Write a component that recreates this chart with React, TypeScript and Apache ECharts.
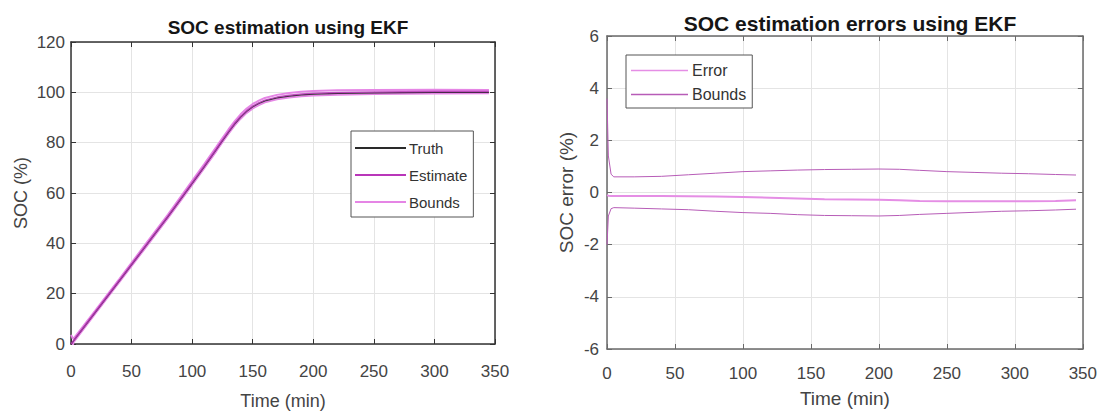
import React, { useEffect, useRef } from "react";
import * as echarts from "echarts";

// ---- SOC estimation (left panel) ----
const socTime = [0, 2, 20, 40, 60, 80, 100, 110, 120, 125, 130, 135, 140, 145, 150, 155, 160, 170, 180, 190, 200, 220, 250, 300, 345];
const socTruth = [0, 1.2, 12.6, 25.2, 37.9, 50.6, 63.8, 70.5, 77.3, 80.8, 84.2, 87.4, 90.2, 92.5, 94.3, 95.6, 96.6, 97.8, 98.5, 99.0, 99.3, 99.6, 99.8, 100.0, 100.0];
const socEstimate = [0, 1.3, 12.7, 25.3, 38.0, 50.7, 64.0, 70.7, 77.5, 81.0, 84.4, 87.6, 90.4, 92.7, 94.5, 95.8, 96.9, 98.1, 98.8, 99.3, 99.6, 99.9, 100.1, 100.3, 100.3];
const socBoundWidth = [3.6, 0.7, 0.6, 0.62, 0.68, 0.74, 0.8, 0.82, 0.83, 0.84, 0.85, 0.86, 0.86, 0.87, 0.87, 0.88, 0.88, 0.89, 0.89, 0.9, 0.9, 0.88, 0.8, 0.72, 0.67];

// ---- SOC estimation error (right panel) ----
const errTime = [0, 1, 3, 5, 20, 40, 60, 80, 100, 120, 140, 160, 180, 200, 215, 230, 250, 270, 290, 310, 330, 345];
const socError = [-0.1, -0.12, -0.13, -0.13, -0.13, -0.13, -0.14, -0.15, -0.17, -0.2, -0.23, -0.26, -0.27, -0.28, -0.3, -0.33, -0.34, -0.34, -0.34, -0.34, -0.33, -0.3];
const errUpper = [3.6, 1.4, 0.7, 0.6, 0.6, 0.62, 0.68, 0.74, 0.8, 0.83, 0.86, 0.88, 0.89, 0.9, 0.89, 0.85, 0.8, 0.77, 0.74, 0.72, 0.69, 0.67];
const errLower = [-2.0, -0.9, -0.62, -0.58, -0.6, -0.63, -0.66, -0.72, -0.77, -0.8, -0.85, -0.88, -0.89, -0.9, -0.88, -0.84, -0.8, -0.76, -0.72, -0.7, -0.67, -0.64];

// axis ticks
const timeTicks = { min: 0, max: 350, interval: 50 };
const socTicks = { min: 0, max: 120, interval: 20 };
const errTicks = { min: -6, max: 6, interval: 2 };

const FONT = "'Liberation Sans', Arial, sans-serif";

const pairs = (xs: number[], ys: number[]) => xs.map((x, i) => [x, ys[i]]);

function boxAxes(
  gridIndex: number,
  xr: { min: number; max: number; interval: number },
  yr: { min: number; max: number; interval: number },
  o: {
    axisColor: string;
    xName: string;
    yName: string;
    xNameGap: number;
    yNameGap: number;
    nameSize: number;
    xLabelMargin: number;
    yLabelMargin: number;
  }
) {
  const line = { show: true, onZero: false, lineStyle: { color: o.axisColor, width: 1.5 } };
  const tick = { show: true, inside: true, length: 5, lineStyle: { color: o.axisColor, width: 1 } };
  const grid = { show: true, lineStyle: { color: "#e4e4e4", width: 1 } };
  const label = { color: "#444", fontSize: 17, fontFamily: FONT };
  const nameStyle = { color: "#444", fontSize: o.nameSize, fontFamily: FONT };
  const xAxes = [
    {
      type: "value", gridIndex, position: "bottom", ...xr,
      axisLine: line, axisTick: tick, splitLine: grid,
      axisLabel: { ...label, margin: o.xLabelMargin },
      name: o.xName, nameLocation: "middle", nameGap: o.xNameGap, nameTextStyle: nameStyle,
    },
    {
      type: "value", gridIndex, position: "top", ...xr,
      axisLine: line, axisTick: tick, splitLine: { show: false }, axisLabel: { show: false },
    },
  ];
  const yAxes = [
    {
      type: "value", gridIndex, position: "left", ...yr,
      axisLine: line, axisTick: tick, splitLine: grid,
      axisLabel: { ...label, margin: o.yLabelMargin },
      name: o.yName, nameLocation: "middle", nameGap: o.yNameGap, nameRotate: 90, nameTextStyle: nameStyle,
    },
    {
      type: "value", gridIndex, position: "right", ...yr,
      axisLine: line, axisTick: tick, splitLine: { show: false }, axisLabel: { show: false },
    },
  ];
  return { xAxes, yAxes };
}

export default function App() {
  const ref = useRef<HTMLDivElement>(null);

  useEffect(() => {
    if (!ref.current) return;
    const chart = echarts.init(ref.current, undefined, { renderer: "svg" });

    const left = boxAxes(0, timeTicks, socTicks, {
      axisColor: "#333",
      xName: "Time (min)",
      yName: "SOC (%)",
      xNameGap: 48,
      yNameGap: 41,
      nameSize: 18,
      xLabelMargin: 19,
      yLabelMargin: 6,
    });
    const right = boxAxes(1, timeTicks, errTicks, {
      axisColor: "#6a6a6a",
      xName: "Time (min)",
      yName: "SOC error (%)",
      xNameGap: 40,
      yNameGap: 31,
      nameSize: 19,
      xLabelMargin: 16,
      yLabelMargin: 8,
    });

    const socUpper = socEstimate.map((v, i) => v + socBoundWidth[i]);
    const socLower = socEstimate.map((v, i) => v - socBoundWidth[i]);

    const lineBase = { type: "line", showSymbol: false, symbol: "none", silent: true };

    const legendNames: Record<string, string> = { errBounds: "Bounds" };

    chart.setOption({
      animation: false,
      backgroundColor: "#ffffff",
      textStyle: { fontFamily: FONT },
      title: [
        {
          text: "SOC estimation using EKF",
          left: 283, top: 13, textAlign: "center",
          textStyle: { fontSize: 19, fontWeight: "bold", color: "#151515", fontFamily: FONT },
        },
        {
          text: "SOC estimation errors using EKF",
          left: 845, top: 8, textAlign: "center",
          textStyle: { fontSize: 21, fontWeight: "bold", color: "#151515", fontFamily: FONT },
        },
      ],
      grid: [
        { left: 71, top: 42, width: 424, height: 304 },
        { left: 607, top: 36, width: 476, height: 313 },
      ],
      xAxis: [...left.xAxes, ...right.xAxes],
      yAxis: [...left.yAxes, ...right.yAxes],
      legend: [
        {
          data: ["Truth", "Estimate", "Bounds"],
          orient: "vertical",
          left: 351, top: 131,
          icon: "rect",
          itemWidth: 51, itemHeight: 2, itemGap: 11,
          padding: [9, 6, 7, 4],
          borderColor: "#555", borderWidth: 1, borderRadius: 0,
          backgroundColor: "#ffffff",
          selectedMode: false,
          textStyle: { fontSize: 15, lineHeight: 16, color: "#333", fontFamily: FONT, padding: [0, 0, 0, -2] },
        },
        {
          data: ["Error", "errBounds"],
          formatter: (n: string) => legendNames[n] || n,
          orient: "vertical",
          left: 626, top: 55,
          icon: "rect",
          itemWidth: 57, itemHeight: 1.5, itemGap: 7,
          padding: [7, 6, 5, 5],
          borderColor: "#555", borderWidth: 1, borderRadius: 0,
          backgroundColor: "#ffffff",
          selectedMode: false,
          textStyle: { fontSize: 16, lineHeight: 17, color: "#333", fontFamily: FONT, padding: [0, 0, 0, -1] },
        },
      ],
      series: [
        // left panel
        { ...lineBase, name: "Bounds", xAxisIndex: 0, yAxisIndex: 0, data: pairs(socTime, socUpper), lineStyle: { color: "#e585e5", width: 2 }, itemStyle: { color: "#e585e5" }, z: 2 },
        { ...lineBase, name: "Bounds", xAxisIndex: 0, yAxisIndex: 0, data: pairs(socTime, socLower), lineStyle: { color: "#e585e5", width: 2 }, itemStyle: { color: "#e585e5" }, z: 2 },
        { ...lineBase, name: "Truth", xAxisIndex: 0, yAxisIndex: 0, data: pairs(socTime, socTruth), lineStyle: { color: "#2a2a2a", width: 1.3 }, itemStyle: { color: "#2a2a2a" }, z: 3 },
        { ...lineBase, name: "Estimate", xAxisIndex: 0, yAxisIndex: 0, data: pairs(socTime, socEstimate), lineStyle: { color: "#b936b9", width: 1.5, opacity: 0.85 }, itemStyle: { color: "#b936b9" }, z: 4 },
        // right panel
        { ...lineBase, name: "Error", xAxisIndex: 2, yAxisIndex: 2, data: pairs(errTime, socError), lineStyle: { color: "#e58ee5", width: 2 }, itemStyle: { color: "#e58ee5" }, z: 3 },
        { ...lineBase, name: "errBounds", xAxisIndex: 2, yAxisIndex: 2, data: pairs(errTime, errUpper), lineStyle: { color: "#b75cb7", width: 1 }, itemStyle: { color: "#b75cb7" }, z: 2 },
        { ...lineBase, name: "errBounds", xAxisIndex: 2, yAxisIndex: 2, data: pairs(errTime, errLower), lineStyle: { color: "#b75cb7", width: 1 }, itemStyle: { color: "#b75cb7" }, z: 2 },
      ],
    });

    return () => chart.dispose();
  }, []);

  return (
    <div
      ref={ref}
      style={{ position: "fixed", left: 0, top: 0, width: 1100, height: 415, background: "#fff" }}
    />
  );
}
